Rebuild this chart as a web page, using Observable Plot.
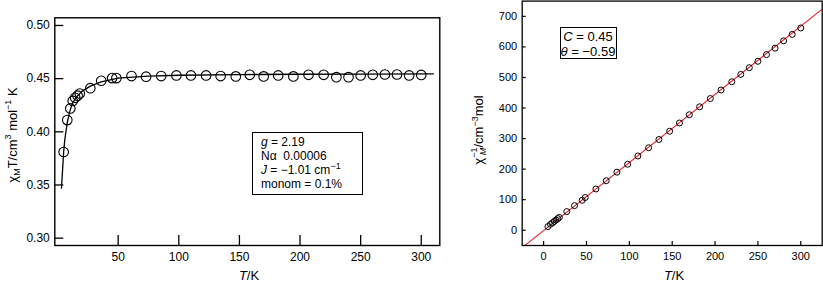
<!DOCTYPE html>
<html>
<head>
<meta charset="utf-8">
<script src="https://cdn.jsdelivr.net/npm/d3@7"></script>
<script src="https://cdn.jsdelivr.net/npm/@observablehq/plot@0.6"></script>
<style>
  html, body { margin: 0; padding: 0; background: #fff; }
  #wrap { position: relative; width: 823px; height: 283px; overflow: hidden; font-family: "Liberation Sans", Arial, sans-serif; color: #000; }
  #wrap svg { position: absolute; top: 0; }
  .lab { position: absolute; font-size: 13px; line-height: 13px; white-space: nowrap; }
  .rot { transform: translate(-50%, -50%) rotate(-90deg); }
  .box { position: absolute; border: 1.3px solid #000; box-sizing: border-box; background: #fff; font-size: 12px; }
  sup, sub { font-size: 9px; line-height: 0; }
  .stk { display: inline-block; vertical-align: middle; line-height: 9px; font-size: 9px; position: relative; top: -1px; }
  .stk span { display: block; }
</style>
</head>
<body>
<div id="wrap"></div>
<script>
// ---- data ----
const temps = [5, 8, 10.5, 12.5, 14.5, 16.5, 18.3, 27, 36, 45, 48.5, 61, 73, 85.5, 98, 110, 122.5, 134.5, 147, 158.5, 170, 182, 194.5, 207, 219.5, 230, 240, 250, 260, 270, 280, 290, 300];
const chiT = [0.381, 0.411, 0.422, 0.429, 0.432, 0.434, 0.436, 0.441, 0.448, 0.4505, 0.4505, 0.4524, 0.4518, 0.4524, 0.453, 0.453, 0.453, 0.4524, 0.4521, 0.4536, 0.4521, 0.453, 0.4521, 0.4536, 0.4536, 0.4514, 0.4514, 0.453, 0.4536, 0.4539, 0.4539, 0.453, 0.4535];
const invChi = [12, 19.5, 24.5, 29, 33.5, 38, 42, 61, 80.5, 98, 107, 135, 162, 190, 216, 243, 270, 297, 324, 351, 378, 404, 431, 459, 486, 510, 532, 553, 575, 596, 620, 641, 662];
const fitT = [3.2, 5, 6, 8, 10, 12, 15, 20, 27, 36, 50, 75, 100, 150, 200, 250, 310];
const fitChiT = [0.347, 0.381, 0.393, 0.409, 0.419, 0.426, 0.432, 0.438, 0.443, 0.447, 0.4505, 0.4523, 0.4532, 0.4538, 0.4541, 0.4543, 0.4545];
const lineT = [-25, 325];
const lineInv = [-56.9, 723.5];
const leftXTicks = [50, 100, 150, 200, 250, 300];
const leftYTicks = [0.30, 0.35, 0.40, 0.45, 0.50];
const rightXTicks = [0, 50, 100, 150, 200, 250, 300];
const rightYTicks = [0, 100, 200, 300, 400, 500, 600, 700];

const pts = temps.map((t, i) => ({t, chiT: chiT[i], inv: invChi[i]}));
const fit = fitT.map((t, i) => ({t, v: fitChiT[i]}));
const line = lineT.map((t, i) => ({t, v: lineInv[i]}));

const wrap = document.getElementById("wrap");

const left = Plot.plot({
  width: 440, height: 283,
  marginLeft: 54.3, marginTop: 17.3, marginRight: 0.7, marginBottom: 38,
  style: {fontFamily: "Liberation Sans, Arial, sans-serif", fontSize: "12px", background: "transparent", color: "#000", overflow: "visible"},
  x: {domain: [-2.3, 315.3]},
  y: {domain: [0.2931, 0.5072]},
  marks: [
    Plot.axisX({ticks: leftXTicks, tickSize: -10, tickPadding: 16.5, tickFormat: d => String(d), label: null, strokeWidth: 1.3}),
    Plot.axisY({ticks: leftYTicks, tickSize: -9, tickPadding: 14, tickFormat: d3.format(".2f"), label: null, strokeWidth: 1.3}),
    Plot.line(fit, {x: "t", y: "v", stroke: "#000", strokeWidth: 1.3}),
    Plot.dot(pts, {x: "t", y: "chiT", r: 4.8, stroke: "#000", fill: "none", strokeWidth: 1.1}),
    Plot.frame({stroke: "#000", strokeWidth: 1.4})
  ]
});
left.style.left = "0px";
wrap.appendChild(left);

const right = Plot.plot({
  width: 383, height: 283,
  marginLeft: 81.7, marginTop: 0.6, marginRight: 1.3, marginBottom: 38,
  style: {fontFamily: "Liberation Sans, Arial, sans-serif", fontSize: "11px", background: "transparent", color: "#000", overflow: "visible"},
  x: {domain: [-25, 325]},
  y: {domain: [-50, 750]},
  marks: [
    Plot.line(line, {x: "t", y: "v", stroke: "#e8272a", strokeWidth: 1.1, clip: true}),
    Plot.dot(pts, {x: "t", y: "inv", r: 3, stroke: "#000", fill: "none", strokeWidth: 1}),
    Plot.axisX({ticks: rightXTicks, tickSize: -4, tickPadding: 10.5, tickFormat: d => String(d), label: null, strokeWidth: 1.2}),
    Plot.axisY({ticks: rightYTicks, tickSize: -4, tickPadding: 9, tickFormat: d => String(d), label: null, strokeWidth: 1.2}),
    Plot.frame({stroke: "#000", strokeWidth: 1.3})
  ]
});
right.style.left = "440px";
wrap.appendChild(right);

function add(html, css, cls) {
  const d = document.createElement("div");
  d.className = cls;
  d.innerHTML = html;
  Object.assign(d.style, css);
  wrap.appendChild(d);
  return d;
}

// axis titles
add("<i>T</i>/K", {left: "249px", top: "268.5px", transform: "translateX(-50%)"}, "lab");
add("<i>T</i>/K", {left: "674px", top: "268.5px", transform: "translateX(-50%)"}, "lab");
add("χ<sub>M</sub>T/cm<sup>3</sup> mol<sup>−1</sup> K", {left: "12px", top: "135px"}, "lab rot");
add("χ<span class='stk'><span>−1</span><span>&nbsp;<i>M</i></span></span>/cm<sup>−3</sup>mol", {left: "480px", top: "130px"}, "lab rot");

// legend boxes
add("<div style='position:absolute;left:8px;top:2px;line-height:14px'><i>g</i> = 2.19<br>Nα&nbsp; 0.00006<br><i>J</i> = −1.01 cm<sup>−1</sup><br>monom = 0.1%</div>",
  {left: "252px", top: "132px", width: "111px", height: "63px"}, "box");
add("<div style='position:absolute;left:0;right:0;top:1px;text-align:center;line-height:15px;font-size:13px'><i>C</i> = 0.45<br><i>θ</i> = −0.59</div>",
  {left: "559.5px", top: "26.5px", width: "57px", height: "32px"}, "box");
</script>
</body>
</html>
